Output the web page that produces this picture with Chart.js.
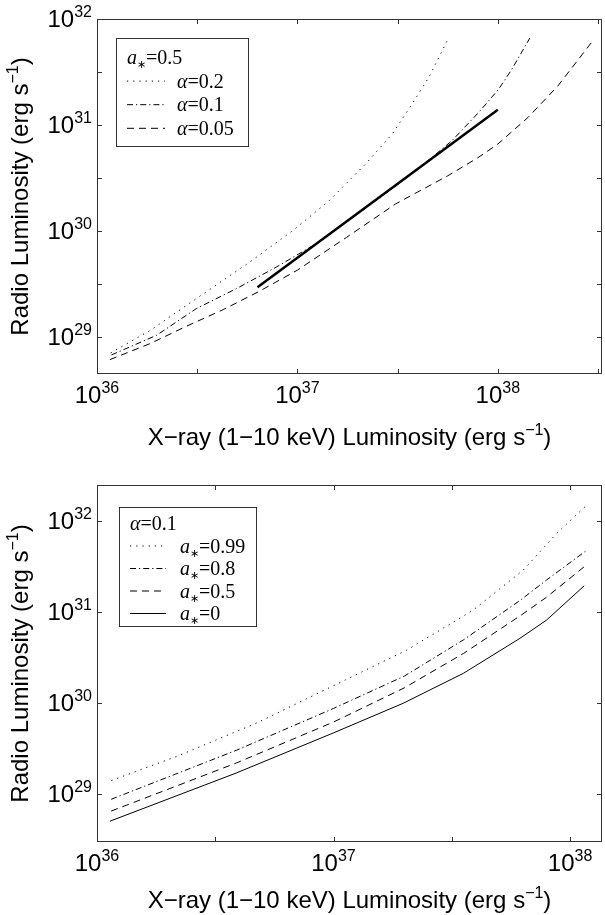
<!DOCTYPE html>
<html lang="en">
<head>
<meta charset="UTF-8">
<title>Radio vs X-ray luminosity</title>
<script src="https://cdn.jsdelivr.net/npm/chart.js"></script>
<style>
  html, body { margin: 0; padding: 0; background: #fff; }
  .panel { position: absolute; left: 0; width: 605px; }
  #topPanel { top: 0; height: 455px; }
  #bottomPanel { top: 455px; height: 460px; }
</style>
</head>
<body>
<div class="panel" id="topPanel"><canvas id="topChart" width="605" height="455"></canvas></div>
<div class="panel" id="bottomPanel"><canvas id="bottomChart" width="605" height="460"></canvas></div>

<script>
// ---- top panel: a* = 0.5, three alpha values + straight fit line
const alpha02X  = [1.17e36, 1.84e36, 3.13e36, 5.77e36, 9.5e36, 1.44e37, 2.19e37, 2.97e37, 3.73e37, 4.52e37, 5.69e37];
const alpha02Y  = [7.06e28, 1.15e29, 2.30e29, 5.07e29, 1.01e30, 1.93e30, 4.29e30, 8.2e30, 1.57e31, 2.8e31, 6.67e31];
const alpha01X  = [1.18e36, 1.98e36, 3.13e36, 4.95e36, 7.83e36, 1.19e37, 2.11e37, 3.73e37, 5.90e37, 8.02e37, 1.01e38, 1.175e38, 1.445e38];
const alpha01Y  = [6.76e28, 1.035e29, 1.85e29, 2.85e29, 4.55e29, 7.24e29, 1.556e30, 3.45e30, 7.10e30, 1.312e31, 2.18e31, 3.36e31, 6.61e31];
const alpha005X = [1.16e36, 1.84e36, 2.79e36, 4.26e36, 6.37e36, 1e37, 1.76e37, 3.09e37, 5.62e37, 7.94e37, 1e38, 1.413e38, 1.995e38, 2.96e38];
const alpha005Y = [6.11e28, 8.65e28, 1.26e29, 1.81e29, 2.66e29, 4.27e29, 8.71e29, 1.80e30, 3.31e30, 4.90e30, 6.61e30, 1.175e31, 2.34e31, 6.14e31];
const fitX = [6.32e36, 1.0e38];
const fitY = [2.95e29, 1.39e31];

// ---- bottom panel: alpha = 0.1, four spin values
const spin099X = [1.15e36, 2.18e36, 4.74e36, 1.12e37, 2.04e37, 3.89e37, 6.34e37, 8.77e37, 1.194e38];
const spin099Y = [1.40e29, 2.59e29, 6.03e29, 1.79e30, 3.82e30, 1.052e31, 2.90e31, 7.33e31, 1.563e32];
const spin08X  = [1.148e36, 3.89e36, 1.0e37, 1.995e37, 3.55e37, 6.17e37, 7.94e37, 1.161e38];
const spin08Y  = [8.71e28, 3.02e29, 8.71e29, 1.98e30, 4.97e30, 1.355e31, 2.25e31, 4.68e31];
const spin05X  = [1.148e36, 3.89e36, 1.0e37, 1.995e37, 3.55e37, 6.17e37, 7.94e37, 1.161e38];
const spin05Y  = [6.46e28, 2.19e29, 6.17e29, 1.47e30, 3.52e30, 9.16e30, 1.455e31, 3.24e31];
const spin0X   = [1.135e36, 3.89e36, 9.98e36, 1.97e37, 3.54e37, 6.14e37, 7.96e37, 1.148e38];
const spin0Y   = [5.0e28, 1.70e29, 4.68e29, 9.93e29, 2.12e30, 5.15e30, 8.18e30, 1.95e31];

// ---- axis ticks (tick marks) and labelled decades
const topXTicks = [1e36, 3.162e36, 1e37, 3.162e37, 1e38, 3.162e38];
const topYTicks = [1e29, 3.162e29, 1e30, 3.162e30, 1e31, 3.162e31, 1e32];
const botXTicks = [1e36, 3.162e36, 1e37, 3.162e37, 1e38];
const botYTicks = [1e29, 1e30, 1e31, 1e32];
const topXLabels = [[1e36, '36'], [1e37, '37'], [1e38, '38']];
const topYLabels = [[1e29, '29'], [1e30, '30'], [1e31, '31'], [1e32, '32']];
const botXLabels = [[1e36, '36'], [1e37, '37'], [1e38, '38']];
const botYLabels = [[1e29, '29'], [1e30, '30'], [1e31, '31'], [1e32, '32']];

const DOT = [1.2, 5];
const DASHDOT = [6, 3, 1.2, 3];
const DASH = [7, 5];

const SANS = '"Liberation Sans", Arial, sans-serif';
const SERIF = '"Liberation Serif", "Times New Roman", serif';

function pts(xs, ys) {
    return xs.map((x, i) => ({ x: x, y: ys[i] }));
}

function line(data, dash, width) {
    return {
        type: 'scatter', showLine: true, data: data,
        borderColor: '#000', borderWidth: width || 1, borderDash: dash,
        pointRadius: 0, fill: false, tension: 0
    };
}

// draw a list of text pieces {t, font, dy} one after another
function rich(ctx, parts, x, y, align) {
    let w = 0;
    parts.forEach(p => { ctx.font = p.font; p.w = ctx.measureText(p.t).width; w += p.w; });
    let cx = align === 'right' ? x - w : align === 'center' ? x - w / 2 : x;
    ctx.textAlign = 'left';
    ctx.textBaseline = 'alphabetic';
    parts.forEach(p => {
        ctx.font = p.font;
        ctx.fillText(p.t, cx, y + (p.dy || 0));
        cx += p.w;
    });
}

function power(exp) {
    return [{ t: '10', font: '24px ' + SANS }, { t: exp, font: '16px ' + SANS, dy: -10 }];
}

const titleX = [
    { t: 'X\u2212ray (1\u221210 keV) Luminosity (erg s', font: '24px ' + SANS },
    { t: '\u22121', font: '16px ' + SANS, dy: -10 },
    { t: ')', font: '24px ' + SANS }
];
const titleY = [
    { t: 'Radio Luminosity (erg s', font: '24px ' + SANS },
    { t: '\u22121', font: '16px ' + SANS, dy: -10 },
    { t: ')', font: '24px ' + SANS }
];

function aStar(val) {
    return [
        { t: 'a', font: 'italic 20px ' + SERIF },
        { t: '\u2217', font: '11px ' + SERIF, dy: 4 },
        { t: '=' + val, font: '20px ' + SERIF }
    ];
}
function alphaText(val) {
    return [
        { t: '\u03b1', font: 'italic 20px ' + SERIF },
        { t: '=' + val, font: '20px ' + SERIF }
    ];
}

// frame, inward ticks, labels, titles and the boxed legend
function framePlugin(cfg) {
    return {
        id: 'frame',
        afterDraw(chart) {
            const ctx = chart.ctx;
            const a = chart.chartArea;
            const xs = chart.scales.x, ys = chart.scales.y;
            ctx.save();
            ctx.strokeStyle = '#333';
            ctx.lineWidth = 1;
            ctx.strokeRect(a.left + 0.5, a.top + 0.5, a.right - a.left - 1, a.bottom - a.top - 1);
            ctx.beginPath();
            cfg.xTicks.forEach(v => {
                const px = Math.round(xs.getPixelForValue(v)) + 0.5;
                ctx.moveTo(px, a.bottom); ctx.lineTo(px, a.bottom - 5);
                ctx.moveTo(px, a.top); ctx.lineTo(px, a.top + 5);
            });
            cfg.yTicks.forEach(v => {
                const py = Math.round(ys.getPixelForValue(v)) + 0.5;
                ctx.moveTo(a.left, py); ctx.lineTo(a.left + 5, py);
                ctx.moveTo(a.right, py); ctx.lineTo(a.right - 5, py);
            });
            ctx.stroke();

            ctx.fillStyle = '#000';
            cfg.xLabels.forEach(l => rich(ctx, power(l[1]), xs.getPixelForValue(l[0]), a.bottom + cfg.xLabelGap, 'center'));
            cfg.yLabels.forEach(l => rich(ctx, power(l[1]), a.left - 5, ys.getPixelForValue(l[0]) + 8, 'right'));
            rich(ctx, titleX, (a.left + a.right) / 2, a.bottom + cfg.xTitleGap, 'center');
            ctx.save();
            ctx.translate(28, (a.top + a.bottom) / 2);
            ctx.rotate(-Math.PI / 2);
            rich(ctx, titleY, 0, 0, 'center');
            ctx.restore();

            // legend
            const lg = cfg.legend;
            ctx.strokeStyle = '#333';
            ctx.strokeRect(lg.x + 0.5, lg.y + 0.5, lg.w, lg.h);
            rich(ctx, lg.header, lg.x + 11, lg.y + lg.first + 7, 'left');
            lg.rows.forEach((r, i) => {
                const y = lg.y + lg.first + lg.step * (i + 1);
                ctx.save();
                ctx.strokeStyle = '#000';
                ctx.setLineDash(r.dash);
                ctx.beginPath();
                ctx.moveTo(lg.x + 11, y + 0.5);
                ctx.lineTo(lg.x + 11 + lg.sample, y + 0.5);
                ctx.stroke();
                ctx.restore();
                rich(ctx, r.text, lg.x + lg.textX, y + 7, 'left');
            });
            ctx.restore();
        }
    };
}

function baseOptions(pad, xMax, yMin, yMax) {
    return {
        responsive: false,
        animation: false,
        devicePixelRatio: 1,
        layout: { padding: pad },
        scales: {
            x: { type: 'logarithmic', display: false, min: 1e36, max: xMax },
            y: { type: 'logarithmic', display: false, min: yMin, max: yMax }
        },
        plugins: { legend: { display: false }, tooltip: { enabled: false } }
    };
}

new Chart(document.getElementById('topChart'), {
    type: 'scatter',
    data: {
        datasets: [
            line(pts(alpha02X, alpha02Y), DOT),
            line(pts(alpha01X, alpha01Y), DASHDOT),
            line(pts(alpha005X, alpha005Y), DASH),
            line(pts(fitX, fitY), [], 2.5)
        ]
    },
    options: baseOptions({ left: 97, right: 3, top: 19, bottom: 81 }, 3.31e38, 4.47e28, 1e32),
    plugins: [framePlugin({
        xTicks: topXTicks, yTicks: topYTicks, xLabels: topXLabels, yLabels: topYLabels,
        xLabelGap: 29, xTitleGap: 71,
        legend: {
            x: 116, y: 38, w: 132, h: 108, first: 19, step: 23.6, sample: 38, textX: 61,
            header: aStar('0.5'),
            rows: [
                { dash: DOT, text: alphaText('0.2') },
                { dash: DASHDOT, text: alphaText('0.1') },
                { dash: DASH, text: alphaText('0.05') }
            ]
        }
    })]
});

new Chart(document.getElementById('bottomChart'), {
    type: 'scatter',
    data: {
        datasets: [
            line(pts(spin099X, spin099Y), DOT),
            line(pts(spin08X, spin08Y), DASHDOT),
            line(pts(spin05X, spin05Y), DASH),
            line(pts(spin0X, spin0Y), [])
        ]
    },
    options: baseOptions({ left: 97, right: 3, top: 30, bottom: 73 }, 1.365e38, 2.95e28, 2.51e32),
    plugins: [framePlugin({
        xTicks: botXTicks, yTicks: botYTicks, xLabels: botXLabels, yLabels: botYLabels,
        xLabelGap: 29, xTitleGap: 66,
        legend: {
            x: 119, y: 52, w: 137, h: 119, first: 16, step: 22.5, sample: 36, textX: 61,
            header: alphaText('0.1'),
            rows: [
                { dash: DOT, text: aStar('0.99') },
                { dash: DASHDOT, text: aStar('0.8') },
                { dash: DASH, text: aStar('0.5') },
                { dash: [], text: aStar('0') }
            ]
        }
    })]
});
</script>
</body>
</html>
